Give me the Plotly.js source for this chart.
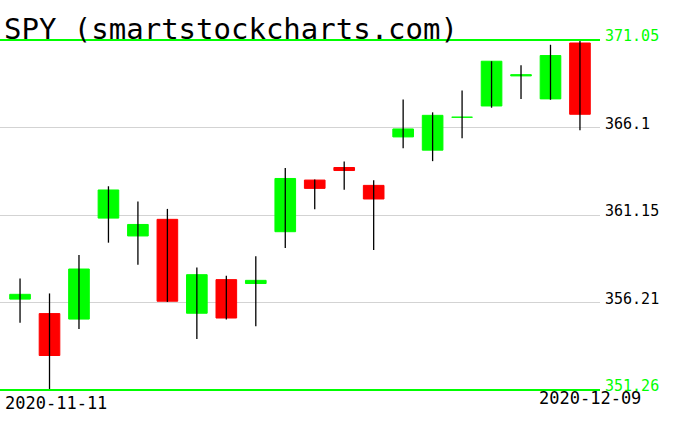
<!DOCTYPE html>
<html>
<head>
<meta charset="utf-8">
<script src="https://cdn.plot.ly/plotly-3.0.1.min.js"></script>
<style>html,body{margin:0;padding:0;background:#fff;}#chart{width:676px;height:431px;}</style>
</head>
<body>
<div id="chart"></div>
<script>
const dates = ['2020-11-11','2020-11-12','2020-11-13','2020-11-16','2020-11-17','2020-11-18','2020-11-19','2020-11-20','2020-11-23','2020-11-24','2020-11-25','2020-11-27','2020-11-30','2020-12-01','2020-12-02','2020-12-03','2020-12-04','2020-12-07','2020-12-08','2020-12-09'];
const openP  = [356.40,355.58,355.27,360.98,359.97,360.91,355.60,357.50,357.28,360.21,363.13,363.84,362.83,365.57,364.82,366.68,367.32,369.02,367.72,370.88];
const highP  = [357.56,356.72,358.90,362.78,361.92,361.50,358.18,357.72,358.82,363.81,363.16,364.18,363.12,367.68,366.96,368.19,369.85,369.62,370.78,371.05];
const lowP   = [355.06,351.26,354.71,359.59,358.34,356.24,354.15,355.25,354.87,359.29,361.48,362.58,359.17,364.93,364.20,365.50,367.22,367.72,367.67,365.95];
const closeP = [356.67,353.21,358.10,362.57,360.62,356.28,357.78,355.33,357.46,363.22,362.66,363.67,362.06,366.02,366.79,366.69,369.85,369.09,370.17,366.85];
const tickVals = [351.26, 356.21, 361.15, 366.1, 371.05];
const tickLabels = ['351.26', '356.21', '361.15', '366.1', '371.05'];
const titleText = 'SPY (smartstockcharts.com)';

const UP = '#00ff00', DOWN = '#ff0000';

// wicks
const wx = [], wy = [];
dates.forEach((d, i) => { wx.push(d, d, null); wy.push(lowP[i], highP[i], null); });

const bodyBase = openP.map((o, i) => Math.min(o, closeP[i]));
const bodyLen = openP.map((o, i) => Math.abs(closeP[i] - o));
const bodyCol = openP.map((o, i) => closeP[i] >= o ? UP : DOWN);

const traces = [
  {type: 'scatter', mode: 'lines', x: wx, y: wy, line: {color: '#000', width: 1.3}, hoverinfo: 'skip', showlegend: false, connectgaps: false, cliponaxis: false},
  {type: 'bar', x: dates, y: bodyLen, base: bodyBase, width: 0.7,
   marker: {color: bodyCol, line: {color: bodyCol, width: 1}}, hoverinfo: 'skip', showlegend: false}
];

const lo = tickVals[0], hi = tickVals[tickVals.length - 1];
const ticktext = tickLabels.map((t, i) => (i === 0 || i === tickLabels.length - 1) ? '<span style="color:#00ff00">' + t + '</span>' : t);

const layout = {
  width: 676, height: 431,
  margin: {l: 0, r: 76, t: 40, b: 41, pad: 0},
  paper_bgcolor: '#fff', plot_bgcolor: '#fff',
  showlegend: false,
  bargap: 0,
  font: {family: 'DejaVu Sans Mono', color: '#000'},
  title: {text: titleText, x: 4/676, xanchor: 'left', xref: 'container', y: 0.956, yanchor: 'top', yref: 'container',
          font: {family: 'DejaVu Sans Mono', size: 29, color: '#000'}, pad: {t: 0, l: 0}},
  xaxis: {type: 'category', categoryarray: dates, range: [-0.68, dates.length - 1 + 0.68],
          showgrid: false, zeroline: false, showline: false, showticklabels: false, ticks: '', fixedrange: true},
  yaxis: {side: 'right', range: [lo, hi], tickvals: tickVals, ticktext: ticktext,
          showgrid: true, gridcolor: '#d3d3d3', gridwidth: 1, zeroline: false, showline: false, ticks: '',
          ticklabelstandoff: 4, ticklabelshift: -4,
          tickfont: {family: 'DejaVu Sans Mono', size: 15, color: '#000'}, fixedrange: true},
  shapes: [
    {type: 'line', xref: 'paper', yref: 'paper', x0: 0, x1: 1, y0: 1, y1: 1, layer: 'above', line: {color: UP, width: 2}},
    {type: 'line', xref: 'paper', yref: 'paper', x0: 0, x1: 1, y0: 0, y1: 0, layer: 'above', line: {color: UP, width: 2}}
  ],
  annotations: [
    {text: dates[0], xref: 'paper', yref: 'paper', x: 0, y: 0, xanchor: 'left', yanchor: 'top', xshift: 3, yshift: -1,
     showarrow: false, font: {family: 'DejaVu Sans Mono', size: 17, color: '#000'}},
    {text: dates[dates.length - 1], xref: 'paper', yref: 'paper', x: 643/600, y: 0, xanchor: 'right', yanchor: 'top', yshift: 4,
     showarrow: false, font: {family: 'DejaVu Sans Mono', size: 17, color: '#000'}}
  ]
};

Plotly.newPlot('chart', traces, layout, {displayModeBar: false, staticPlot: true});
</script>
</body>
</html>
